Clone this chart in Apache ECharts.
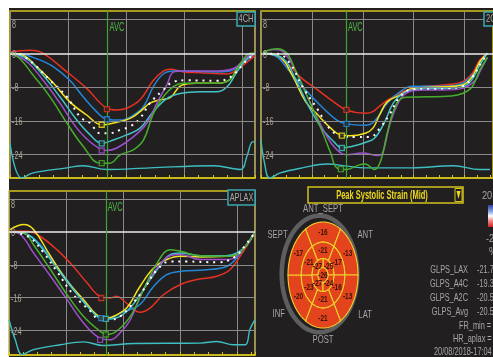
<!DOCTYPE html>
<html><head><meta charset="utf-8">
<script src="https://cdn.jsdelivr.net/npm/echarts@6/dist/echarts.min.js"></script>
<style>html,body{margin:0;padding:0;background:#fff}#c{width:493px;height:357px}</style>
</head><body><div id="c"></div>
<script>
// ---------- DATA (time in grid units, strain %) ----------
const yTicks = [8, 0, -8, -16, -24];
const gridYs = [8, -8, -16, -24];
const avcTimes = [1.68, 1.67, 1.70];

const p1Red = [[0,0.3],[0.35,0.7],[0.57,0],[0.98,-4.4],[1.32,-8.3],[1.67,-13],[1.84,-13.4],[2.01,-13],[2.24,-11],[2.47,-6.4],[2.64,-4.2],[2.76,-3.8],[2.99,-4.4],[3.28,-4.6],[3.74,-4.9],[3.85,-4.4],[4.02,-2.8],[4.22,-0.5]];
const p1Blue = [[0,0],[0.17,-0.1],[0.46,-1.3],[0.75,-3.2],[1.03,-6.4],[1.26,-10.3],[1.49,-13.8],[1.67,-15.6],[1.9,-15.8],[2.13,-14.6],[2.3,-12.6],[2.47,-7.9],[2.64,-4.9],[2.82,-4.2],[3.0,-4.2],[3.56,-4.4],[3.79,-4.2],[3.97,-2.8],[4.22,0]];
const p1Yellow = [[0,0],[0.23,-0.5],[0.46,-3.2],[0.75,-7.1],[1.03,-11.5],[1.32,-14.6],[1.58,-16.9],[1.78,-16.5],[2.07,-15.4],[2.24,-13.8],[2.41,-11.8],[2.59,-11],[2.76,-10.5],[2.95,-7.6],[3.2,-7.1],[3.56,-7.1],[3.79,-6.2],[3.97,-2.4],[4.22,0]];
const p1White = [[0.17,-0.1],[0.4,-2.4],[0.69,-6.4],[0.98,-10.3],[1.21,-15.1],[1.38,-16.5],[1.55,-18.9],[1.72,-18.9],[1.9,-18.1],[2.07,-17.3],[2.24,-15.4],[2.41,-11.8],[2.64,-8.7],[2.82,-6.7],[3.05,-6.4],[3.56,-6.5],[3.79,-5.7],[4.08,-1.6],[4.22,0]];
const p1Cyan = [[0,0],[0.29,-1.3],[0.57,-5.2],[0.86,-10.3],[1.15,-15.8],[1.38,-19.3],[1.58,-21.3],[1.78,-20.5],[2.01,-19.3],[2.24,-17.7],[2.47,-13.8],[2.7,-10.7],[2.93,-9.5],[3.28,-9.1],[3.56,-9.1],[3.74,-7.9],[3.91,-4.4],[4.08,-1.3],[4.22,0]];
const p1Purple = [[0,0],[0.29,-2],[0.57,-6.4],[0.86,-11.8],[1.15,-17.7],[1.44,-21.6],[1.67,-23],[1.84,-22.4],[2.13,-19.7],[2.36,-16.5],[2.53,-11.8],[2.7,-7.5],[2.82,-4.4],[2.99,-4.2],[3.56,-4.2],[3.85,-3.6],[4.08,-0.9],[4.22,0]];
const p1Green = [[0,0],[0.17,-1.3],[0.4,-5.2],[0.69,-10.3],[0.98,-16.5],[1.26,-22],[1.55,-26],[1.72,-26],[1.9,-24],[2.13,-22.8],[2.3,-20.5],[2.47,-14.2],[2.64,-10.3],[2.82,-7.8],[2.99,-7.1],[3.56,-7.1],[3.79,-6.2],[3.97,-2.4],[4.14,0],[4.22,0]];
const p1Ecg = [[0,-21.3],[0.2,-29.5],[0.4,-28.3],[0.98,-27.1],[1.26,-26.6],[1.67,-27.5],[2.41,-27.1],[3.51,-26.6],[3.97,-27.5],[4.08,-24.4],[4.17,-21],[4.22,-20.9]];
const p1Markers = [[1.67,-13.2,'red'],[1.67,-15.6,'blue'],[1.58,-16.9,'yellow'],[1.58,-21.3,'cyan'],[1.58,-23,'purple'],[1.58,-26,'green']];

const p2Red = [[0.04,0],[0.26,-0.5],[0.51,-2.4],[0.81,-6],[1.12,-8.7],[1.43,-11.5],[1.68,-13.4],[2.05,-14.2],[2.2,-13.8],[2.36,-12.2],[2.54,-10.7],[2.79,-9.1],[3.04,-8.1],[3.59,-7.5],[3.96,-6.7],[4.15,-4.8],[4.3,-1.6],[4.45,0]];
const p2Blue = [[0.04,0],[0.32,-0.9],[0.57,-4.4],[0.88,-8.7],[1.19,-12.6],[1.49,-15.8],[1.68,-16.7],[2.05,-17],[2.22,-16.2],[2.48,-11.8],[2.73,-9.1],[2.98,-7.8],[3.59,-7.8],[3.96,-7.1],[4.21,-4.4],[4.3,-2.4],[4.45,0]];
const p2Yellow = [[0.04,0],[0.38,-0.9],[0.63,-5.6],[0.88,-11.5],[1.12,-14.6],[1.37,-17.7],[1.56,-19.3],[1.74,-19.5],[2.05,-18.9],[2.2,-17.7],[2.33,-14.6],[2.48,-11.5],[2.73,-9.9],[2.98,-8.3],[3.59,-7.9],[3.96,-7.5],[4.15,-5.6],[4.3,-2],[4.45,0]];
const p2White = [[0.04,-0.1],[0.32,-0.1],[0.57,-2.4],[0.81,-7.8],[1.12,-13.4],[1.37,-18.1],[1.62,-19.7],[1.86,-19.8],[2.14,-19.8],[2.36,-17.3],[2.54,-14.2],[2.73,-10.3],[2.98,-8.5],[3.59,-8.3],[3.96,-7.8],[4.15,-5.7],[4.3,-2.8],[4.45,0]];
const p2Cyan = [[0.04,0],[0.44,-1.3],[0.69,-6.4],[0.94,-12.6],[1.19,-17.7],[1.43,-20.9],[1.59,-22.4],[1.8,-22],[2.05,-21.1],[2.23,-20.1],[2.42,-16.5],[2.6,-11.8],[2.79,-9.5],[3.04,-8.5],[3.59,-8.3],[3.96,-7.9],[4.15,-6.2],[4.3,-2.8],[4.45,0]];
const p2Purple = [[0.04,0.3],[0.26,0.9],[0.44,0.3],[0.69,-4.4],[0.94,-11],[1.19,-17.3],[1.43,-22],[1.68,-24],[1.99,-23.6],[2.3,-24.2],[2.39,-23.6],[2.54,-16.5],[2.73,-11],[2.91,-9.1],[3.16,-8.7],[3.59,-8.7],[3.96,-8.3],[4.21,-6.4],[4.3,-4.4],[4.45,-1]];
const p2Green = [[0.04,0.3],[0.32,1.1],[0.51,0],[0.69,-4.4],[0.94,-11],[1.19,-18.1],[1.37,-23.6],[1.49,-27.1],[1.68,-27.5],[1.93,-26.4],[2.05,-26.2],[2.23,-27.5],[2.36,-25.2],[2.48,-18.9],[2.67,-11.8],[2.85,-10.4],[3.28,-10.3],[3.72,-10.1],[3.96,-9.5],[4.15,-7.9],[4.3,-4],[4.45,-1]];
const p2Ecg = [[0,-20.5],[0.07,-26],[0.17,-29.5],[0.38,-28.3],[0.81,-27.1],[1.31,-26.2],[1.68,-26.7],[2.05,-27.1],[2.98,-27.1],[3.78,-26.6],[4.3,-27.5],[4.5,-27.5]];
const p2Markers = [[1.68,-13.4,'red'],[1.68,-16.7,'blue'],[1.59,-19.5,'yellow'],[1.59,-22.4,'cyan'],[1.57,-27.4,'green']];

const p3Red = [[0.02,0.2],[0.32,0.2],[0.55,-1.1],[0.84,-4.3],[1.13,-8.4],[1.37,-12.4],[1.6,-15.7],[1.78,-16.1],[1.89,-15.7],[2.01,-16.7],[2.19,-18.9],[2.3,-19.6],[2.48,-18.5],[2.71,-15.3],[3.01,-12.8],[3.3,-11.6],[3.65,-10.8],[3.88,-9.2],[4.06,-5.9],[4.32,-0.2]];
const p3Blue = [[0.02,0],[0.32,-0.6],[0.55,-3.1],[0.84,-8.4],[1.13,-13.7],[1.43,-18.9],[1.6,-20.7],[1.78,-21],[1.95,-19.8],[2.13,-18.9],[2.3,-17.7],[2.54,-13.3],[2.77,-10.4],[3.01,-9.6],[3.47,-9.2],[3.82,-8.4],[4.0,-6.3],[4.32,0]];
const p3Yellow = [[0.02,0.6],[0.26,1.8],[0.43,0.6],[0.73,-5.9],[1.02,-12],[1.31,-16.5],[1.54,-20.2],[1.72,-21],[1.89,-20.2],[2.07,-18.5],[2.3,-13.3],[2.54,-8.8],[2.77,-6.7],[3.01,-5.9],[3.36,-6.1],[3.82,-5.9],[4.0,-5.5],[4.32,0]];
const p3White = [[0.08,0],[0.37,-1.4],[0.61,-5.1],[0.84,-9.6],[1.13,-15.3],[1.43,-19.3],[1.6,-21.4],[1.78,-21.4],[1.95,-20.6],[2.13,-18.1],[2.36,-14.1],[2.6,-9.2],[2.83,-7.2],[3.12,-7.2],[3.65,-7.4],[3.94,-6.3],[4.18,-2.7],[4.32,0]];
const p3Cyan = [[0.02,0],[0.32,-0.6],[0.55,-3.5],[0.84,-8.8],[1.13,-14.1],[1.43,-18.9],[1.6,-21],[1.78,-21.2],[1.95,-20.6],[2.13,-18.5],[2.36,-14.1],[2.6,-9.2],[2.83,-5.5],[3.01,-5.1],[3.36,-5.8],[3.82,-5.8],[4.0,-5.1],[4.18,-3.1],[4.32,0]];
const p3Purple = [[0.02,0],[0.2,-0.6],[0.43,-5.1],[0.73,-10.8],[1.02,-16.5],[1.31,-22.2],[1.6,-25.9],[1.78,-26.3],[1.95,-24.6],[2.13,-21.4],[2.36,-14.1],[2.6,-8.8],[2.83,-5.8],[3.01,-5.5],[3.36,-6.7],[3.82,-6.7],[4.0,-5.9],[4.32,0]];
const p3Green = [[0.02,0],[0.26,-0.2],[0.43,-3.1],[0.73,-9.2],[1.02,-15.3],[1.31,-20.6],[1.6,-24.2],[1.72,-25],[1.89,-24.2],[2.13,-20.6],[2.36,-14.1],[2.6,-7.6],[2.83,-4.3],[3.01,-4.7],[3.36,-5.8],[3.82,-5.9],[4.0,-5.5],[4.32,0]];
const p3Ecg = [[0,-21.4],[0.11,-26.3],[0.23,-29.9],[0.43,-28.7],[0.9,-27.5],[1.31,-26.8],[1.66,-27.7],[2.19,-27.2],[3.36,-27.1],[3.65,-26.7],[3.94,-27.5],[4.15,-27.5],[4.23,-23.8],[4.32,-21.4]];
const p3Markers = [[1.62,-16.1,'red'],[1.62,-21,'blue'],[1.7,-21.2,'cyan'],[1.7,-25,'green'],[1.6,-26.3,'purple']];

// Bullseye (17 segments) values
const segNames = ['ANT_SEPT', 'ANT', 'LAT', 'POST', 'INF', 'SEPT'];
const sixAngles = [90, 30, -30, -90, -150, 150];
const basalValues = [-16, -13, -13, -21, -20, -17];
const midValues = [-21, -17, -16, -21, -23, -21];
const apicalAngles = [45, 135, 225, 315];
const apicalValues = [-25, -27, -27, -24];
const apexValue = -26;
const segLabelAngles = [90, 32, -32, -90, -150, 150];
const segLabelRadii = [1.24, 1.42, 1.42, 1.22, 1.46, 1.5];

const glpsNames = ['GLPS_LAX', 'GLPS_A4C', 'GLPS_A2C', 'GLPS_Avg'];
const glpsValues = ['-21.7', '-19.3', '-20.5', '-20.5'];

// ---------- STYLE ----------
const FONT = "'Liberation Sans', Arial, sans-serif";
const SX = 0.64; // horizontal squeeze to mimic the condensed font
const BG = '#221f20';
const YEL = '#d4c21e';
const GRAY = '#8a8a8a';
const TXT = '#a6a6a6';
const COL = {red:'#e63222', blue:'#2388d8', yellow:'#f4e31c', white:'#ffffff', cyan:'#42c3c6', purple:'#9c50cc', green:'#46ae2c', ecg:'#3dbfc2'};

const chart = echarts.init(document.getElementById('c'), null, {renderer:'canvas'});

const grids = [
  {left:10, top:11, width:245, height:167},
  {left:261, top:11, width:246, height:167},
  {left:9, top:191, width:246, height:164},
  {left:267, top:195.5, width:112, height:159}
];
const xMax = [4.22, 4.56, 4.32];
const yMin = [-29.5, -29.5, -30];

const xAxes = [], yAxes = [];
for (let i = 0; i < 3; i++) {
  xAxes.push({gridIndex:i, type:'value', min:0, max:xMax[i], interval:1,
    axisLabel:{show:false}, axisLine:{show:true, onZero:false, lineStyle:{color:YEL, width:1.5}},
    axisTick:{show:true, inside:true, length:3, lineStyle:{color:YEL}},
    minorTick:{show:true, splitNumber:4, length:3, lineStyle:{color:YEL}},
    splitLine:{show:true, lineStyle:{color:GRAY, width:1}}});
  yAxes.push({gridIndex:i, type:'value', min:yMin[i], max:10, show:false});
}
xAxes.push({gridIndex:3, type:'value', min:-1.6, max:1.6, show:false});
yAxes.push({gridIndex:3, type:'value', min:-1.5, max:1.5, show:false});

// condensed text drawn through a custom series (positions from data coords)
function textSeries(gi, items, opts) {
  return {type:'custom', xAxisIndex:gi, yAxisIndex:gi, z:opts.z || 6, silent:true, animation:false, clip:false,
    data: items.map(it => it.value),
    renderItem:(params, api) => {
      const it = items[params.dataIndex];
      const p = api.coord([api.value(0), api.value(1)]);
      return {type:'text', x:p[0] + (it.dx || 0), y:p[1] + (it.dy || 0), scaleX:opts.sx || SX,
        style:{text:it.text, fill:opts.color, font:opts.font, align:opts.align || 'left', verticalAlign:'middle'}};
    }};
}

const panels = [
  {ecg:p1Ecg, curves:[['red',p1Red],['blue',p1Blue],['yellow',p1Yellow],['cyan',p1Cyan],['purple',p1Purple],['green',p1Green],['white',p1White]], markers:p1Markers},
  {ecg:p2Ecg, curves:[['red',p2Red],['blue',p2Blue],['yellow',p2Yellow],['cyan',p2Cyan],['purple',p2Purple],['green',p2Green],['white',p2White]], markers:p2Markers},
  {ecg:p3Ecg, curves:[['red',p3Red],['blue',p3Blue],['yellow',p3Yellow],['cyan',p3Cyan],['purple',p3Purple],['green',p3Green],['white',p3White]], markers:p3Markers}
];

const series = [];
panels.forEach((p, i) => {
  series.push({type:'line', xAxisIndex:i, yAxisIndex:i, data:p.ecg, showSymbol:false, smooth:0.4, z:2,
    lineStyle:{color:COL.ecg, width:1.4}, animation:false,
    markLine:{silent:true, symbol:['none','none'], animation:false, label:{show:false},
      lineStyle:{color:GRAY, type:'solid', width:1},
      data: gridYs.map(v => ({yAxis:v}))
        .concat([{yAxis:0, lineStyle:{color:'#eeeeee', width:1.5, type:'solid'}},
                 {xAxis:avcTimes[i], lineStyle:{color:'#3ca535', width:1.2, type:'solid'}}])}});
  p.curves.forEach(([c, d]) => {
    series.push({type:'line', xAxisIndex:i, yAxisIndex:i, data:d, showSymbol:false, smooth:0.4, z:3, animation:false,
      lineStyle: c === 'white' ? {color:'#ffffff', width:2, type:[2,5]} : {color:COL[c], width:1.5}});
  });
  series.push({type:'scatter', xAxisIndex:i, yAxisIndex:i, z:5, symbol:'rect', symbolSize:5, animation:false,
    data: p.markers.map(m => ({value:[m[0], m[1]], itemStyle:{color:BG, borderColor:COL[m[2]], borderWidth:1.3}}))});
  // y tick labels
  series.push(textSeries(i, yTicks.map(v => ({value:[0, v], text:String(v), dx:2, dy: v === 8 ? 6 : 1.5})),
    {color:'#aca896', font:'10px ' + FONT, sx:0.72}));
  // AVC label
  series.push(textSeries(i, [{value:[avcTimes[i], 6], text:'AVC', dx:2}],
    {color:'#4cb843', font:'12px ' + FONT, sx:0.62}));
});

// Bullseye
const segData = [];
const ringBasal = [0.62, 1.0], ringMid = [0.31, 0.62], ringApical = [0.14, 0.31];
sixAngles.forEach((a, k) => segData.push([ringBasal[0], ringBasal[1], a - 30, a + 30, basalValues[k]]));
sixAngles.forEach((a, k) => segData.push([ringMid[0], ringMid[1], a - 30, a + 30, midValues[k]]));
apicalAngles.forEach((a, k) => segData.push([ringApical[0], ringApical[1], a - 45, a + 45, apicalValues[k]]));
segData.push([0, ringApical[0], 0, 360, apexValue]);

function arcPts(api, cx, cy, rx, ry, a0, a1, n) {
  const pts = [];
  for (let i = 0; i <= n; i++) {
    const a = (a0 + (a1 - a0) * i / n) * Math.PI / 180;
    pts.push(api.coord([cx + rx * Math.cos(a), cy + ry * Math.sin(a)]));
  }
  return pts;
}
series.push({type:'custom', xAxisIndex:3, yAxisIndex:3, z:2, silent:true, animation:false,
  data:[[-0.1, 0.02, 1.08, 1.1]],
  renderItem:(params, api) => ({type:'polygon',
    shape:{points:arcPts(api, api.value(0), api.value(1), api.value(2), api.value(3), 0, 360, 90)},
    style:{fill:'none', stroke:'#5e5e5e', lineWidth:4.5}})});
series.push({type:'custom', xAxisIndex:3, yAxisIndex:3, z:3, silent:true, animation:false,
  data:segData,
  renderItem:(params, api) => {
    const rIn = api.value(0), rOut = api.value(1), a0 = api.value(2), a1 = api.value(3);
    const outer = arcPts(api, 0, 0, rOut, rOut, a0, a1, 30);
    const inner = rIn > 0 ? arcPts(api, 0, 0, rIn, rIn, a1, a0, 30) : [];
    return {type:'polygon', shape:{points:outer.concat(inner)},
      style:{fill:'#e4441d', stroke:'#efd22a', lineWidth:1.1}};
  }});
series.push(textSeries(3, segData.map(s => {
    const r = s[0] === 0 ? 0 : (s[0] + s[1]) / 2;
    const a = (s[2] + s[3]) / 2 * Math.PI / 180;
    return {value:[r * Math.cos(a), r * Math.sin(a)], text:String(s[4])};
  }), {color:'#3a160a', font:'bold 9.5px ' + FONT, align:'center', sx:0.68, z:5}));
series.push(textSeries(3, segNames.map((n, k) => {
    const a = segLabelAngles[k] * Math.PI / 180;
    return {value:[segLabelRadii[k] * Math.cos(a), segLabelRadii[k] * Math.sin(a)], text:n};
  }), {color:TXT, font:'11px ' + FONT, align:'center', sx:0.7, z:5}));

// ---------- graphic texts ----------
const txt = (x, y, s, o, sx) => ({type:'text', x, y, z:20, silent:true, scaleX: sx || SX,
  style:Object.assign({text:s, fill:TXT, font:'11.5px ' + FONT, verticalAlign:'middle'}, o || {})});
const graphic = [
  {type:'rect', shape:{x:0, y:0, width:493, height:8}, style:{fill:'#ffffff'}, z:-1, silent:true},
  {type:'rect', shape:{x:0, y:0, width:9, height:357}, style:{fill:'#ffffff'}, z:-1, silent:true},
  // panel name boxes
  {type:'rect', shape:{x:237, y:12, width:18, height:14}, style:{fill:BG, stroke:'#3aa9ae', lineWidth:1.5}, z:10},
  txt(246, 19.5, '4CH', {align:'center', font:'10.5px ' + FONT, fill:'#a8a8a8'}, 0.72),
  {type:'rect', shape:{x:484, y:12, width:22, height:14}, style:{fill:BG, stroke:'#3aa9ae', lineWidth:1.5}, z:10},
  txt(486, 19.5, '2C', {font:'10.5px ' + FONT, fill:'#a8a8a8'}, 0.72),
  {type:'rect', shape:{x:228, y:190, width:27, height:15}, style:{fill:BG, stroke:'#3aa9ae', lineWidth:1.5}, z:10},
  txt(241.5, 198, 'APLAX', {align:'center', font:'10.5px ' + FONT, fill:'#a8a8a8'}, 0.7),
  // title box
  {type:'rect', shape:{x:308, y:187, width:155, height:16}, style:{fill:'none', stroke:YEL, lineWidth:1.5}, z:10},
  {type:'rect', shape:{x:455, y:188.5, width:7, height:13}, style:{fill:'none', stroke:YEL, lineWidth:1}, z:10},
  {type:'polygon', shape:{points:[[456.5,191],[460.5,191],[458.5,199]]}, style:{fill:'#f2dc20'}, z:10},
  txt(382, 195.5, 'Peak Systolic Strain (Mid)', {align:'center', font:'bold 12.5px ' + FONT, fill:'#ecd81e'}, 0.6),
  txt(482, 195.5, '20.', {}, 0.8),
  {type:'rect', shape:{x:488, y:205, width:6, height:22}, z:10,
    style:{fill:new echarts.graphic.LinearGradient(0,0,0,1,[{offset:0,color:'#2a3f9e'},{offset:0.3,color:'#8aa6e6'},{offset:0.5,color:'#ffffff'},{offset:0.7,color:'#f09090'},{offset:1,color:'#d81e1e'}])}},
  txt(486, 239, '-20', {}, 0.8),
  txt(489, 252, '%', {}, 0.8)
];
glpsNames.forEach((n, k) => {
  graphic.push(txt(468, 270 + 14 * k, n, {align:'right'}));
  graphic.push(txt(477, 270 + 14 * k, glpsValues[k], {}));
});
graphic.push(txt(459, 326, 'FR_min =', {}));
graphic.push(txt(453, 339, 'HR_aplax =', {}));
graphic.push(txt(434, 352, '20/08/2018-17:04', {}));

chart.setOption({
  backgroundColor: BG,
  animation: false,
  grid: grids.map((g, i) => Object.assign({show: i < 3, borderColor:YEL, borderWidth:1.5, backgroundColor:'transparent', containLabel:false}, g)),
  xAxis: xAxes,
  yAxis: yAxes,
  series: series,
  graphic: graphic
});
</script>
</body></html>
